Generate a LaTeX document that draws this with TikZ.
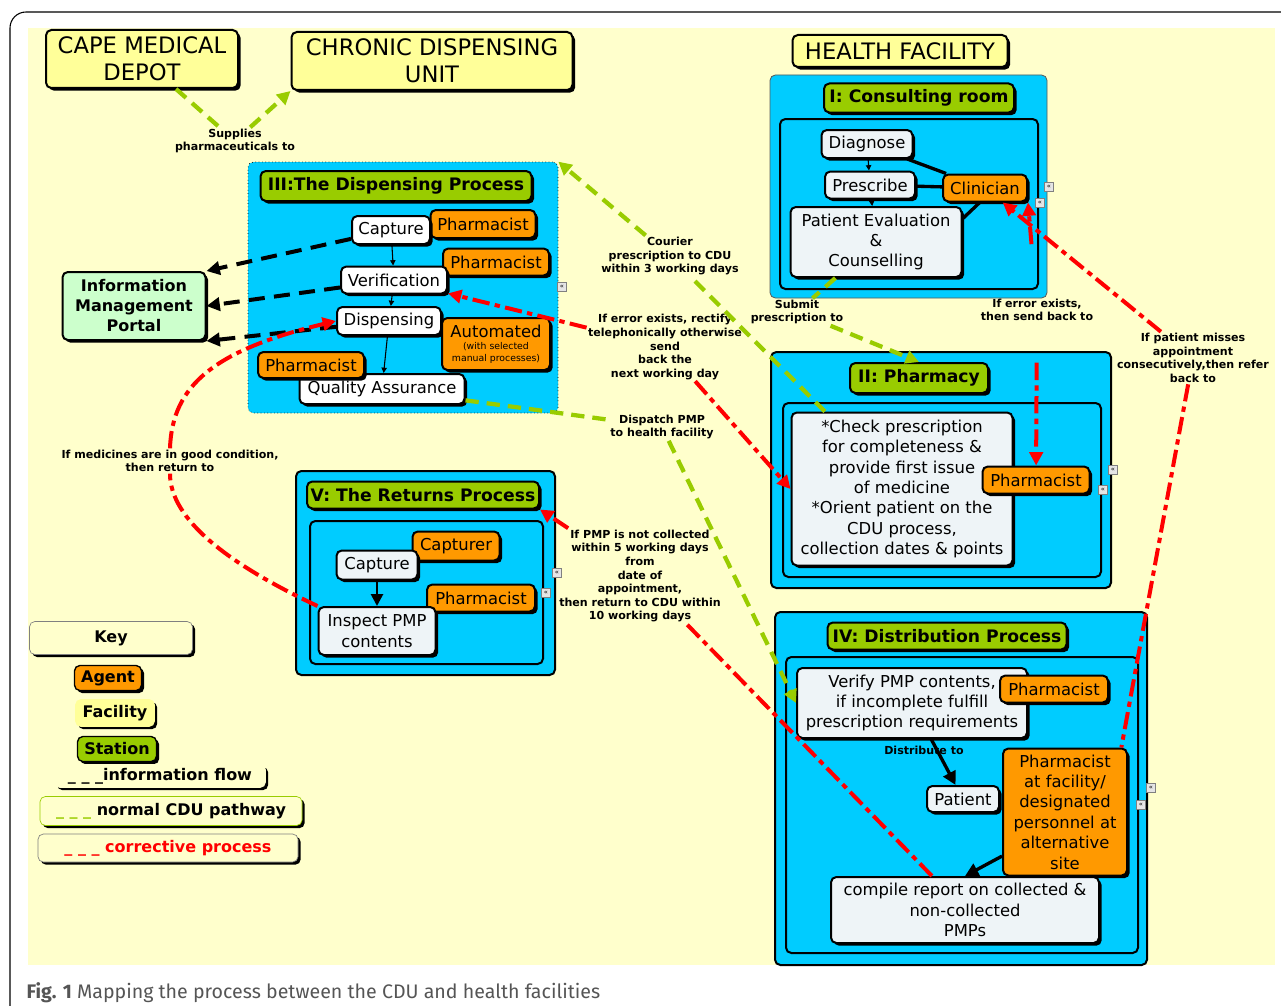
\documentclass[tikz,border=0pt]{standalone}
\usepackage{fontspec}
\setmainfont{DejaVu Sans}
\newfontfamily\capfont{Fira Sans}
\usepackage{tikz}
\usetikzlibrary{arrows.meta}
\usetikzlibrary{shadows}
\usetikzlibrary{positioning}

\definecolor{bgyellow}{HTML}{FFFFCC}
\definecolor{facyellow}{HTML}{FFFF99}
\definecolor{areablue}{HTML}{00CCFF}
\definecolor{stgreen}{HTML}{99CC00}
\definecolor{agorange}{HTML}{FF9900}
\definecolor{taskgray}{HTML}{EEF4F7}
\definecolor{portalgreen}{HTML}{CCFFCC}
\definecolor{cdugreen}{HTML}{99CC00}
\definecolor{capgray}{HTML}{555555}

\tikzset{
  every node/.style={align=center, inner sep=1pt},
  wh/.style 2 args={minimum width=#1*0.75pt, minimum height=#2*0.75pt},
  boxbase/.style={draw, line width=1.5pt, rounded corners=4pt,
    drop shadow={shadow xshift=2pt, shadow yshift=-2pt, opacity=1, fill=black}},
  facility/.style={boxbase, fill=facyellow, font=\fontsize{17}{20}\selectfont},
  station/.style={boxbase, fill=stgreen, font=\bfseries\fontsize{12.9}{14}\selectfont},
  agent/.style={boxbase, fill=agorange, font=\fontsize{12.3}{15.3}\selectfont},
  stepbox/.style={boxbase, fill=white, font=\fontsize{12.3}{15.3}\selectfont},
  taskbox/.style={boxbase, fill=taskgray, font=\fontsize{12.3}{15.3}\selectfont},
  area/.style={draw, line width=1.5pt, rounded corners=4pt, fill=areablue},
  panel/.style={draw, line width=1.5pt, rounded corners=4pt, fill=areablue},
  keybox/.style={boxbase, line width=0.5pt, fill=bgyellow, font=\bfseries\fontsize{12}{14}\selectfont},
  lbl/.style={font=\bfseries\fontsize{8.3}{10.2}\selectfont},
  collapse/.style={draw=gray, line width=0.4pt, fill=gray!20, inner sep=0.3pt,
    minimum size=7pt, font=\fontsize{5}{5}\selectfont},
  normalflow/.style={draw=cdugreen, line width=3.2pt, dash pattern=on 10pt off 6pt},
  infoflow/.style={draw=black, line width=3pt, dash pattern=on 12pt off 7pt},
  corrective/.style={draw=red, line width=3pt, dash pattern=on 13pt off 4pt on 4pt off 4pt},
  tip/.style={-{Triangle[length=10pt, width=10pt]}},
  smallflow/.style={draw, line width=0.8pt, -{Triangle[length=4pt, width=4pt]}},
  link/.style={draw, line width=2.5pt},
}

\begin{document}
\begin{tikzpicture}[x=0.75pt, y=-0.75pt]
  \useasboundingbox (0,0) rectangle (1281,1006);
  % page, frame and background
  \fill[white] (0,0) rectangle (1281,1006);
  \fill[bgyellow] (28,28) rectangle (1275,965);
  \draw[line width=0.8pt, rounded corners=12pt] (10,1015) -- (10,12) -- (1295,12);

  % facilities
  \node (depot) [facility, wh={192}{58}] at (142,59) {CAPE MEDICAL\\DEPOT};
  \node (cdu) [facility, wh={281}{58}] at (432,61) {CHRONIC DISPENSING\\UNIT};
  \node (hf) [facility, wh={215}{32}] at (900,51) {HEALTH FACILITY};

  % III: dispensing process
  \node (dsp) [area, line width=0.5pt, dotted, wh={310}{251}] at (403,287.5) {};
  \node (dsptitle) [station, wh={271}{30}] at (396,186) {III:The Dispensing Process};
  \node (phcap) [agent, wh={105}{28}] at (483,224) {Pharmacist};
  \node (capture) [stepbox, wh={78}{28}] at (391,230) {Capture};
  \node (phver) [agent, wh={106}{27}] at (496,262) {Pharmacist};
  \node (verif) [stepbox, wh={106}{27}] at (394,280) {Verification};
  \node (disp) [stepbox, wh={104}{28}] at (389,321) {Dispensing};
  \node (auto) [agent, wh={108}{52}, font=\fontsize{7}{8.5}\selectfont] at (496,344)
    {{\fontsize{12.3}{15}\selectfont Automated}\\[1pt](with selected\\manual processes)};
  \node (qa) [stepbox, wh={165}{30}] at (382,389) {Quality Assurance};
  \node (phqa) [agent, wh={106}{26}] at (311,365) {Pharmacist};

  % information portal
  \node (imp) [boxbase, fill=portalgreen, wh={143}{68}, font=\bfseries\fontsize{12}{15}\selectfont]
    at (134,306) {Information\\Management\\Portal};

  % I: consulting room
  \node (cons) [area, line width=0.6pt, draw=gray!70!black, wh={277}{223}] at (908.5,186.5) {};
  \node (constitle) [station, wh={190}{29}] at (919,98) {I: Consulting room};
  \node (conspanel) [panel, wh={258}{170}] at (909,204) {};
  \node (diag) [taskbox, wh={91}{28}] at (867,144) {Diagnose};
  \node (presc) [taskbox, wh={90}{27}] at (870,185) {Prescribe};
  \node (pec) [taskbox, wh={171}{70}] at (876,242) {Patient Evaluation\\\&\\Counselling};
  \node (clin) [agent, wh={84}{27}] at (985,188) {Clinician};

  % II: pharmacy
  \node (phm) [area, wh={340}{236}] at (941,470) {};
  \node (phmtitle) [station, wh={138}{30}] at (919,378) {II: Pharmacy};
  \node (phmpanel) [panel, wh={318}{174}] at (942,490) {};
  \node (check) [taskbox, wh={221}{153}] at (902,489)
    {*Check prescription\\for completeness \&\\provide first issue\\of medicine\\*Orient patient on the\\CDU process,\\collection dates \& points};
  \node (phphm) [agent, wh={107}{27}] at (1036,480) {Pharmacist};

  % IV: distribution process
  \node (dist) [area, wh={372}{353}] at (961,788.5) {};
  \node (disttitle) [station, wh={239}{27}] at (947,636) {IV: Distribution Process};
  \node (distpanel) [panel, wh={352}{296}] at (962,805) {};
  \node (verify) [taskbox, wh={230}{70}] at (912,703) {Verify PMP contents,\\if incomplete fulfill\\prescription requirements};
  \node (phdist) [agent, wh={108}{27}] at (1054,689) {Pharmacist};
  \node (patient) [taskbox, wh={72}{26}] at (963,799) {Patient};
  \node (pfac) [agent, wh={124}{127}] at (1065,812) {Pharmacist\\at facility/\\designated\\personnel at\\alternative\\site};
  \node (report) [taskbox, wh={268}{66}] at (965,910) {compile report on collected \&\\non-collected\\PMPs};

  % V: returns process
  \node (ret) [area, wh={259}{204}] at (425.5,573) {};
  \node (rettitle) [station, wh={232}{27}] at (423,495) {V: The Returns Process};
  \node (retpanel) [panel, wh={233}{143}] at (426.5,592.5) {};
  \node (capturer) [agent, wh={87}{29}] at (456,546) {Capturer};
  \node (recap) [taskbox, wh={81}{29}] at (377,565) {Capture};
  \node (phret) [agent, wh={108}{27}] at (481,598) {Pharmacist};
  \node (inspect) [taskbox, wh={117}{48}] at (377,631) {Inspect PMP\\contents};

  % key
  \node (key) [keybox, draw=gray, wh={163}{33}] at (111,638) {Key};
  \node (kagent) [keybox, draw=black, line width=1pt, fill=agorange, wh={67}{25}] at (108,678) {Agent};
  \node (kfac) [keybox, draw=facyellow, fill=facyellow, wh={79}{27}] at (115,713) {Facility};
  \node (kstation) [keybox, draw=black, line width=1pt, fill=stgreen, wh={79}{25}] at (117,749) {Station};
  \node (kinfo) [keybox, draw=bgyellow, wh={211}{23}] at (160,776) {\_ \_ \_information flow};
  \node (knormal) [keybox, draw=cdugreen, wh={262}{29}] at (171,811) {\textcolor{cdugreen}{\_ \_ \_} normal CDU pathway};
  \node (kcorr) [keybox, draw=gray, wh={260}{28}] at (168,848) {\textcolor{red}{\_ \_ \_ corrective process}};

  % connector labels
  \node (supply) [lbl] at (235,141) {Supplies\\pharmaceuticals to};
  \node (courier) [lbl] at (670,256) {Courier\\prescription to CDU\\within 3 working days};
  \node (submit) [lbl] at (797,312) {Submit\\prescription to};
  \node (rectify) [lbl] at (665,347) {If error exists, rectify\\telephonically otherwise\\send\\back the\\next working day};
  \node (sendback) [lbl] at (1037,310) {If error exists,\\then send back to};
  \node (misses) [lbl] at (1193,358) {If patient misses\\appointment\\consecutively,then refer\\back to};
  \node (dispatch) [lbl] at (662,427) {Dispatch PMP\\to health facility};
  \node (goodcond) [lbl] at (170,461) {If medicines are in good condition,\\then return to};
  \node (notcoll) [lbl] at (640,576) {If PMP is not collected\\within 5 working days\\from\\date of\\appointment,\\then return to CDU within\\10 working days};

  % collapse icons
  \foreach \ix/\iy in {562/287, 1049/187, 1040/203, 1113/470, 1103/490, 557/573, 546/593, 1151/788, 1141/805}
    \node (icon\ix) [collapse] at (\ix,\iy) {«};

  % steps inside the stations
  \draw[smallflow] (capture) -- (verif);
  \draw[smallflow] (verif) -- (disp);
  \draw[smallflow] (disp) -- (qa);
  \draw[smallflow] (diag) -- (presc);
  \draw[smallflow] (presc) -- (pec);
  \draw[link] (diag) -- (clin);
  \draw[link] (presc) -- (clin);
  \draw[link] (pec.15) -- (clin.250);
  \draw[line width=2pt, -{Triangle[length=9pt, width=9pt]}] (recap) -- (inspect);
  \draw[line width=2.5pt, -{Triangle[length=10pt, width=10pt]}] (verify) -- (patient);
  \draw[line width=2.5pt, -{Triangle[length=10pt, width=10pt]}] (pfac.215) -- (report.north);
  \node (distr) [lbl] at (924,750) {Distribute to};

  % information flow
  \draw[infoflow, tip] (capture) -- (imp.north east);
  \draw[infoflow, tip] (verif) -- (imp.east);
  \draw[infoflow, tip] (disp) -- (imp.south east);

  % normal CDU pathway
  \draw[normalflow] (depot) -- (supply);
  \draw[normalflow, tip] (supply) -- (cdu.south west);
  \draw[normalflow] (check) -- (courier);
  \draw[normalflow, tip] (courier) -- (dsp.north east);
  \draw[normalflow] (pec) -- (submit);
  \draw[normalflow, tip] (submit) -- (phmtitle.north);
  \draw[normalflow] (qa) -- (dispatch);
  \draw[normalflow, tip] (dispatch) -- (verify.west);

  % corrective process
  \draw[corrective, tip] (rectify) -- (verif);
  \draw[corrective, tip] (rectify) -- (check.west);
  \draw[corrective, tip, shorten <=40pt] (sendback) -- (clin.south east);
  \draw[corrective, tip, shorten <=30pt] (sendback) -- (phphm);
  \draw[corrective, tip] (misses) -- (clin);
  \draw[corrective] (misses) -- ([xshift=-5pt]pfac.north east);
  \draw[corrective] (report) -- (notcoll);
  \draw[corrective, tip] (notcoll) -- (rettitle.south east);
  \draw[corrective] (inspect.north west) .. controls (230,565) and (170,520) .. (goodcond.south);
  \draw[corrective, tip] (goodcond.north) .. controls (172,385) and (215,350) .. (disp.west);

  % caption
  \node (caption) [anchor=west, font=\capfont\fontsize{14.7}{16}\selectfont, text=capgray]
    at (25,993) {\textbf{Fig. 1} Mapping the process between the CDU and health facilities};
\end{tikzpicture}
\end{document}
